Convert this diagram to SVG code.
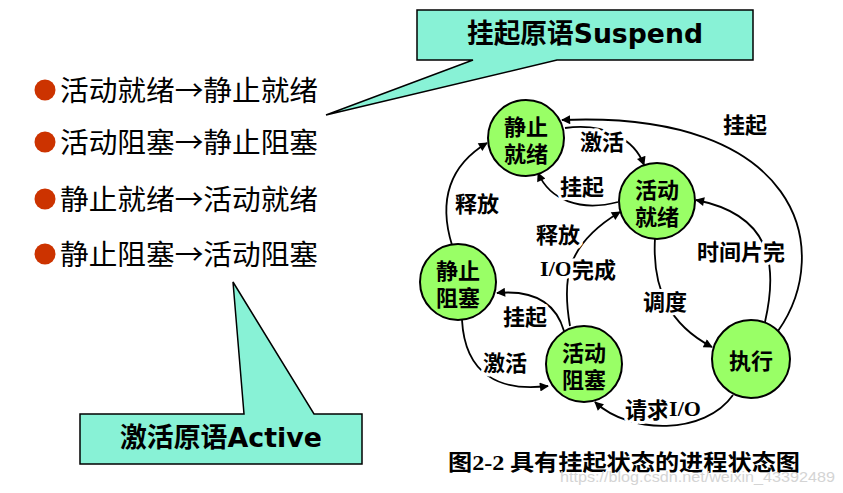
<svg xmlns="http://www.w3.org/2000/svg" width="843" height="493" viewBox="0 0 843 493">
<style>
.call{fill:#88f2d6;stroke:#000;stroke-width:1.5;stroke-linejoin:miter}
.ct{font-family:"Noto Sans CJK SC",sans-serif;font-weight:bold;font-size:27px;fill:#000}
.lat{font-family:"DejaVu Sans",sans-serif;font-weight:bold}
.li{font-family:"Noto Sans CJK SC",sans-serif;font-size:28px;fill:#000}
.bul{fill:#cc3300}
.node circle{fill:#99ff66;stroke:#000;stroke-width:2}
.nt{font-family:"Noto Sans CJK SC",sans-serif;font-weight:bold;font-size:22px;fill:#000;text-anchor:middle;dominant-baseline:central}
.edge{fill:none;stroke:#000;stroke-width:1.8;marker-end:url(#ah)}
.lb{font-family:"Noto Sans CJK SC",sans-serif;font-weight:bold;font-size:22px;fill:#000;text-anchor:middle;dominant-baseline:central;paint-order:stroke;stroke:#fff;stroke-width:6;stroke-linejoin:round}
.ser{font-family:"Liberation Serif",serif;font-weight:bold}
.cap{font-family:"Noto Sans CJK SC",sans-serif;font-weight:bold;font-size:22px;fill:#000}
.wm{font-family:"Liberation Sans",sans-serif;font-size:15px;fill:#d4d4d4}
</style>
<defs>
<marker id="ah" viewBox="0 0 10 10" refX="9" refY="5" markerWidth="12" markerHeight="9" markerUnits="userSpaceOnUse" orient="auto"><path d="M0,0 L10,5 L0,10 Z" fill="#000"/></marker>
</defs>
<rect width="843" height="493" fill="#fff"/>

<g id="callout-suspend">
<path class="call" d="M417,10 H753 V60 H557 L326,115 L473,60 H417 Z"/>
<text class="ct" x="585" y="43" text-anchor="middle" textLength="236" lengthAdjust="spacingAndGlyphs">挂起原语<tspan class="lat">Suspend</tspan></text>
</g>

<g id="callout-active">
<path class="call" d="M80,414 H244 L233,282 L314,414 H362 V464 H80 Z"/>
<text class="ct" x="221" y="447" text-anchor="middle" textLength="202" lengthAdjust="spacingAndGlyphs">激活原语<tspan class="lat">Active</tspan></text>
</g>

<g id="list">
<circle class="bul" cx="45" cy="90" r="10.5"/>
<text class="li" x="60" y="101" textLength="258" lengthAdjust="spacingAndGlyphs">活动就绪→静止就绪</text>
<circle class="bul" cx="45" cy="142" r="10.5"/>
<text class="li" x="60" y="153" textLength="258" lengthAdjust="spacingAndGlyphs">活动阻塞→静止阻塞</text>
<circle class="bul" cx="45" cy="199" r="10.5"/>
<text class="li" x="60" y="210" textLength="258" lengthAdjust="spacingAndGlyphs">静止就绪→活动就绪</text>
<circle class="bul" cx="45" cy="254" r="10.5"/>
<text class="li" x="60" y="265" textLength="258" lengthAdjust="spacingAndGlyphs">静止阻塞→活动阻塞</text>
</g>

<g id="connectors">
<path class="edge" d="M778,331 C835,250 800,110 562,120"/>
<path class="edge" d="M565,128 C605,122 635,140 644,165"/>
<path class="edge" d="M618,202 C580,212 550,200 538,173"/>
<path class="edge" d="M765,322 C778,265 772,215 696,200"/>
<path class="edge" d="M655,238 C652,290 670,325 712,347"/>
<path class="edge" d="M733,395 C705,435 630,435 595,402"/>
<path class="edge" d="M570,326 C562,280 565,245 620,212"/>
<path class="edge" d="M564,331 C555,300 530,290 497,293"/>
<path class="edge" d="M462,320 C465,375 500,392 548,386"/>
<path class="edge" d="M452,245 C438,200 450,165 487,143"/>
</g>

<g id="edge-labels">
<text class="lb" x="745" y="123">挂起</text>
<text class="lb" x="602" y="140">激活</text>
<text class="lb" x="582" y="185">挂起</text>
<text class="lb" x="477" y="202">释放</text>
<text class="lb" x="558" y="233">释放</text>
<text class="lb" x="578" y="268"><tspan class="ser">I/O</tspan>完成</text>
<text class="lb" x="741" y="250">时间片完</text>
<text class="lb" x="665" y="300">调度</text>
<text class="lb" x="525" y="315">挂起</text>
<text class="lb" x="505" y="361">激活</text>
<text class="lb" x="663" y="408">请求<tspan class="ser">I/O</tspan></text>
</g>

<g id="node-static-ready" class="node">
<circle cx="526" cy="138" r="38"/>
<text class="nt" x="526" y="124.5">静止</text>
<text class="nt" x="526" y="151.5">就绪</text>
</g>
<g id="node-active-ready" class="node">
<circle cx="657" cy="201" r="38"/>
<text class="nt" x="657" y="187.5">活动</text>
<text class="nt" x="657" y="214.5">就绪</text>
</g>
<g id="node-static-blocked" class="node">
<circle cx="458" cy="282" r="38"/>
<text class="nt" x="458" y="268.5">静止</text>
<text class="nt" x="458" y="295.5">阻塞</text>
</g>
<g id="node-active-blocked" class="node">
<circle cx="584" cy="364" r="38"/>
<text class="nt" x="584" y="350.5">活动</text>
<text class="nt" x="584" y="377.5">阻塞</text>
</g>
<g id="node-running" class="node">
<circle cx="751" cy="359" r="39"/>
<text class="nt" x="751" y="359" font-size="23">执行</text>
</g>

<g id="caption">
<text class="cap" x="448" y="470" textLength="352" lengthAdjust="spacingAndGlyphs">图<tspan class="ser">2-2</tspan> 具有挂起状态的进程状态图</text>
<text class="wm" x="560" y="482" textLength="275" lengthAdjust="spacingAndGlyphs">https://blog.csdn.net/weixin_43392489</text>
</g>
</svg>
